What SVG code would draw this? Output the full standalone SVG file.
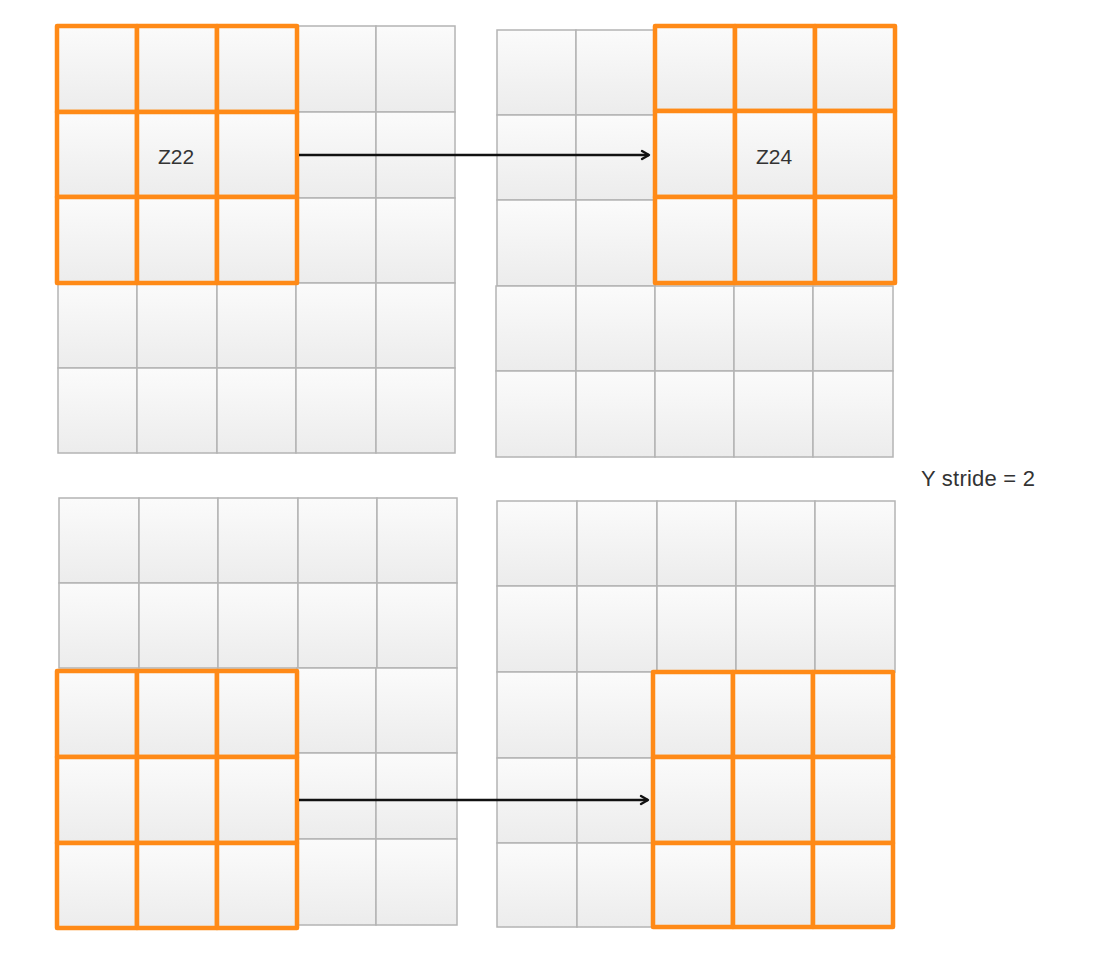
<svg xmlns="http://www.w3.org/2000/svg" width="1104" height="958" viewBox="0 0 1104 958">
<style>
.c{fill:url(#g);stroke:#b4b4b4;stroke-width:1.5}
.o{fill:url(#g);stroke:#ff8a17;stroke-width:4.5;stroke-linejoin:round}
.t{font-family:"Liberation Sans",Arial,sans-serif;font-size:21px;fill:#333}
.s{font-size:22px}
.a{stroke:#111;stroke-width:2.4;fill:none}
</style>
<defs>
<linearGradient id="g" x1="0" y1="0" x2="0" y2="1">
<stop offset="0" stop-color="#fbfbfb"/>
<stop offset="1" stop-color="#ececec"/>
</linearGradient>
<marker id="ah" viewBox="0 0 12 12" refX="10" refY="6" markerWidth="12" markerHeight="12" markerUnits="userSpaceOnUse" orient="auto">
<path d="M3,2 L10,6 L3,10" fill="none" stroke="#111" stroke-width="2.4" stroke-linecap="round" stroke-linejoin="round"/>
</marker>
</defs>
<rect width="1104" height="958" fill="#fff"/>

<g id="grid-top-left">
<rect class="c" x="297" y="26" width="79" height="86"/>
<rect class="c" x="376" y="26" width="79" height="86"/>
<rect class="c" x="297" y="112" width="79" height="86"/>
<rect class="c" x="376" y="112" width="79" height="86"/>
<rect class="c" x="297" y="198" width="79" height="85"/>
<rect class="c" x="376" y="198" width="79" height="85"/>
<rect class="c" x="58" y="283" width="79" height="85"/>
<rect class="c" x="137" y="283" width="80" height="85"/>
<rect class="c" x="217" y="283" width="79" height="85"/>
<rect class="c" x="296" y="283" width="80" height="85"/>
<rect class="c" x="376" y="283" width="79" height="85"/>
<rect class="c" x="58" y="368" width="79" height="85"/>
<rect class="c" x="137" y="368" width="80" height="85"/>
<rect class="c" x="217" y="368" width="79" height="85"/>
<rect class="c" x="296" y="368" width="80" height="85"/>
<rect class="c" x="376" y="368" width="79" height="85"/>
<rect class="o" x="57" y="26" width="80" height="86"/>
<rect class="o" x="137" y="26" width="80" height="86"/>
<rect class="o" x="217" y="26" width="80" height="86"/>
<rect class="o" x="57" y="112" width="80" height="85"/>
<rect class="o" x="137" y="112" width="80" height="85"/>
<rect class="o" x="217" y="112" width="80" height="85"/>
<rect class="o" x="57" y="197" width="80" height="86"/>
<rect class="o" x="137" y="197" width="80" height="86"/>
<rect class="o" x="217" y="197" width="80" height="86"/>
<text class="t" x="176" y="164" text-anchor="middle">Z22</text>
</g>

<g id="grid-top-right">
<rect class="c" x="497" y="30" width="79" height="85"/>
<rect class="c" x="576" y="30" width="79" height="85"/>
<rect class="c" x="497" y="115" width="79" height="85"/>
<rect class="c" x="576" y="115" width="79" height="85"/>
<rect class="c" x="497" y="200" width="79" height="86"/>
<rect class="c" x="576" y="200" width="79" height="86"/>
<rect class="c" x="496" y="286" width="80" height="85"/>
<rect class="c" x="576" y="286" width="79" height="85"/>
<rect class="c" x="655" y="286" width="79" height="85"/>
<rect class="c" x="734" y="286" width="79" height="85"/>
<rect class="c" x="813" y="286" width="80" height="85"/>
<rect class="c" x="496" y="371" width="80" height="86"/>
<rect class="c" x="576" y="371" width="79" height="86"/>
<rect class="c" x="655" y="371" width="79" height="86"/>
<rect class="c" x="734" y="371" width="79" height="86"/>
<rect class="c" x="813" y="371" width="80" height="86"/>
<rect class="o" x="655" y="26" width="80" height="85"/>
<rect class="o" x="735" y="26" width="80" height="85"/>
<rect class="o" x="815" y="26" width="80" height="85"/>
<rect class="o" x="655" y="111" width="80" height="86"/>
<rect class="o" x="735" y="111" width="80" height="86"/>
<rect class="o" x="815" y="111" width="80" height="86"/>
<rect class="o" x="655" y="197" width="80" height="86"/>
<rect class="o" x="735" y="197" width="80" height="86"/>
<rect class="o" x="815" y="197" width="80" height="86"/>
<text class="t" x="774" y="164" text-anchor="middle">Z24</text>
</g>

<g id="grid-bottom-left">
<rect class="c" x="59" y="498" width="80" height="85"/>
<rect class="c" x="139" y="498" width="79" height="85"/>
<rect class="c" x="218" y="498" width="80" height="85"/>
<rect class="c" x="298" y="498" width="79" height="85"/>
<rect class="c" x="377" y="498" width="80" height="85"/>
<rect class="c" x="59" y="583" width="80" height="85"/>
<rect class="c" x="139" y="583" width="79" height="85"/>
<rect class="c" x="218" y="583" width="80" height="85"/>
<rect class="c" x="298" y="583" width="79" height="85"/>
<rect class="c" x="377" y="583" width="80" height="85"/>
<rect class="c" x="297" y="668" width="79" height="85"/>
<rect class="c" x="376" y="668" width="81" height="85"/>
<rect class="c" x="297" y="753" width="79" height="86"/>
<rect class="c" x="376" y="753" width="81" height="86"/>
<rect class="c" x="297" y="839" width="79" height="86"/>
<rect class="c" x="376" y="839" width="81" height="86"/>
<rect class="o" x="57" y="671" width="80" height="86"/>
<rect class="o" x="137" y="671" width="80" height="86"/>
<rect class="o" x="217" y="671" width="80" height="86"/>
<rect class="o" x="57" y="757" width="80" height="86"/>
<rect class="o" x="137" y="757" width="80" height="86"/>
<rect class="o" x="217" y="757" width="80" height="86"/>
<rect class="o" x="57" y="843" width="80" height="85"/>
<rect class="o" x="137" y="843" width="80" height="85"/>
<rect class="o" x="217" y="843" width="80" height="85"/>
</g>

<g id="grid-bottom-right">
<rect class="c" x="497" y="501" width="80" height="85"/>
<rect class="c" x="577" y="501" width="80" height="85"/>
<rect class="c" x="657" y="501" width="79" height="85"/>
<rect class="c" x="736" y="501" width="79" height="85"/>
<rect class="c" x="815" y="501" width="80" height="85"/>
<rect class="c" x="497" y="586" width="80" height="86"/>
<rect class="c" x="577" y="586" width="80" height="86"/>
<rect class="c" x="657" y="586" width="79" height="86"/>
<rect class="c" x="736" y="586" width="79" height="86"/>
<rect class="c" x="815" y="586" width="80" height="86"/>
<rect class="c" x="497" y="672" width="80" height="86"/>
<rect class="c" x="577" y="672" width="80" height="86"/>
<rect class="c" x="497" y="758" width="80" height="85"/>
<rect class="c" x="577" y="758" width="80" height="85"/>
<rect class="c" x="497" y="843" width="80" height="84"/>
<rect class="c" x="577" y="843" width="80" height="84"/>
<rect class="o" x="653" y="672" width="80" height="85"/>
<rect class="o" x="733" y="672" width="80" height="85"/>
<rect class="o" x="813" y="672" width="80" height="85"/>
<rect class="o" x="653" y="757" width="80" height="86"/>
<rect class="o" x="733" y="757" width="80" height="86"/>
<rect class="o" x="813" y="757" width="80" height="86"/>
<rect class="o" x="653" y="843" width="80" height="84"/>
<rect class="o" x="733" y="843" width="80" height="84"/>
<rect class="o" x="813" y="843" width="80" height="84"/>
</g>

<g id="connectors">
<line class="a" x1="299" y1="155" x2="649" y2="155" marker-end="url(#ah)"/>
<line class="a" x1="299" y1="800" x2="648" y2="800" marker-end="url(#ah)"/>
</g>

<g id="label-stride">
<text class="t s" x="921" y="486" textLength="114">Y stride = 2</text>
</g>
</svg>
